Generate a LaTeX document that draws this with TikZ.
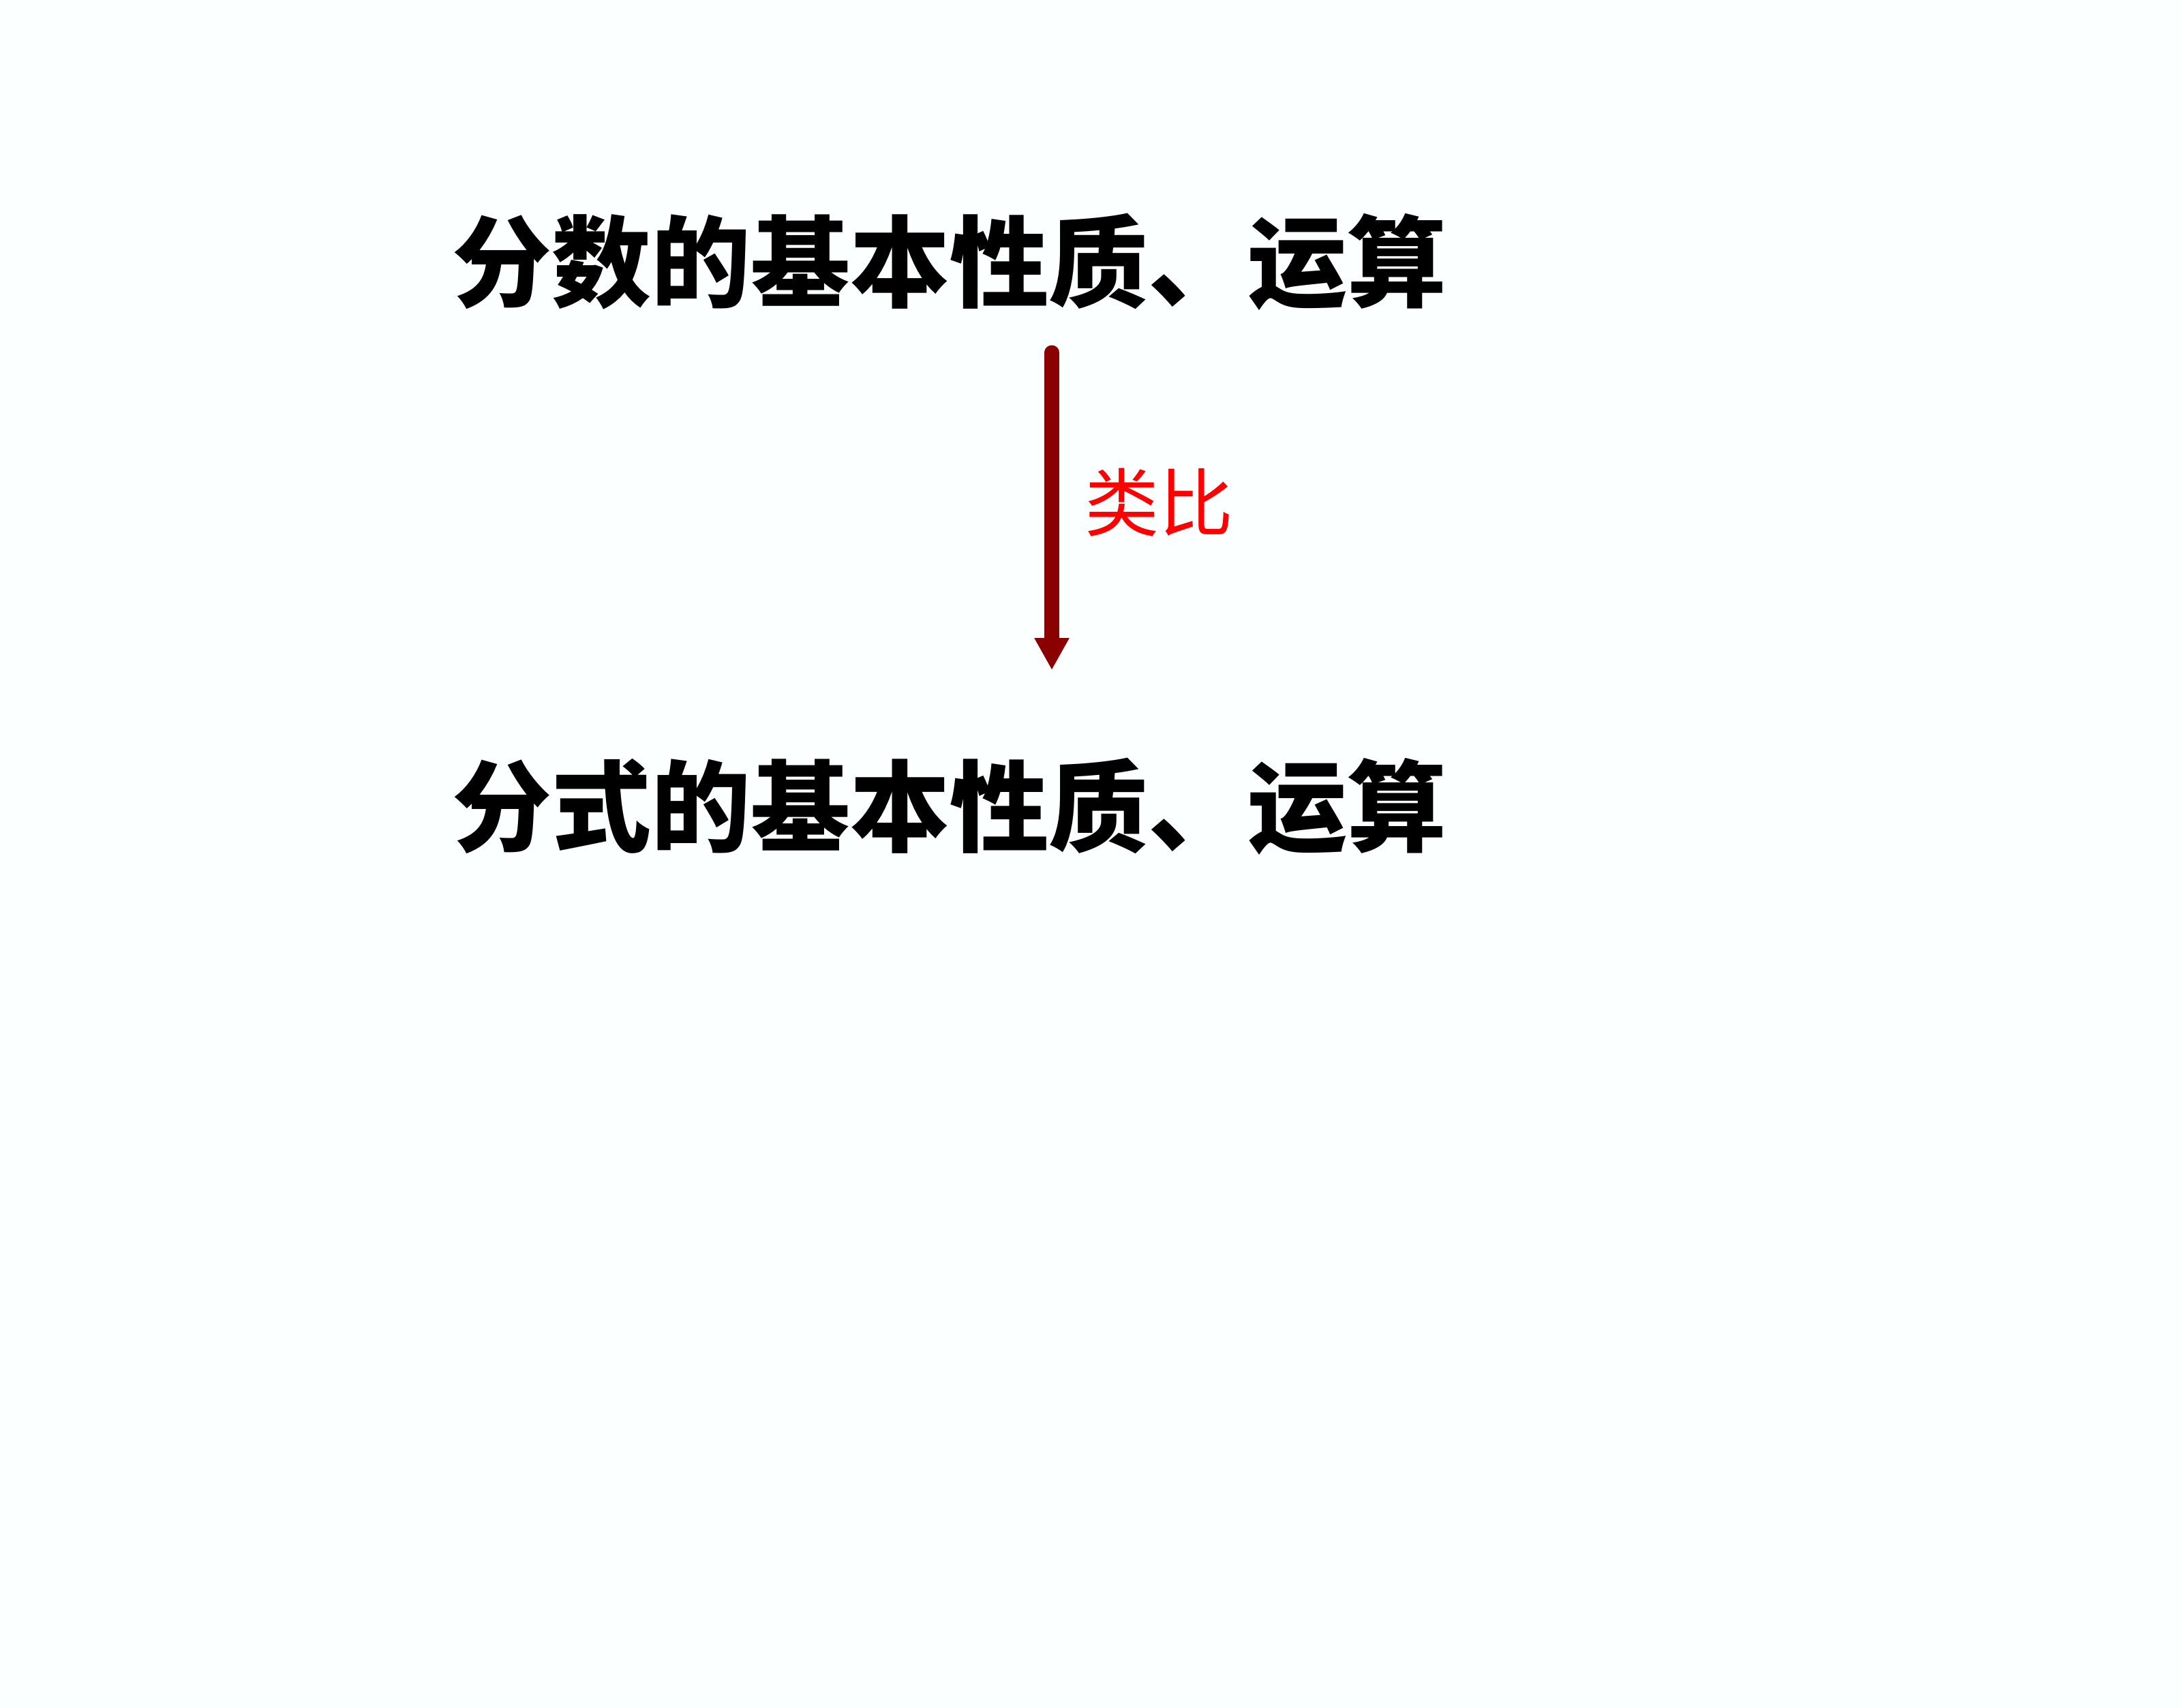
\documentclass[tikz,border=0pt]{standalone}
\usepackage{fontspec}
\newfontfamily\cjk{Noto Sans CJK SC}
\usepackage{tikz}
\usetikzlibrary{arrows.meta, positioning}
\definecolor{arrowred}{RGB}{139, 0, 0}
\definecolor{bgpaper}{RGB}{252, 255, 255}

\begin{document}
\begin{tikzpicture}[
  topic/.style={font={\cjk\fontsize{41.5}{50}\selectfont\bfseries}, inner sep=0pt},
  analogy/.style={font={\cjk\fontsize{31}{37}\selectfont}, text=red, inner sep=0pt},
  flow/.style={arrowred, line width=6pt, line cap=round, -{Triangle[width=0.48cm, length=0.47cm]}}
]
\fill[bgpaper] (0,0) rectangle (32.01,-25.05);
\useasboundingbox (0,0) rectangle (32.01,-25.05);
\node[topic] (fraction) at (13.93,-3.84) {分数的基本性质、运算};
\node[topic] (ratexpr) at (13.93,-11.83) {分式的基本性质、运算};
\coordinate (from) at (15.43,-5.17);
\coordinate (to) at (15.43,-9.83);
\draw[flow] (from) -- (to);
\node[analogy] (label) at (17.0,-7.37) {类比};
\end{tikzpicture}
\end{document}
